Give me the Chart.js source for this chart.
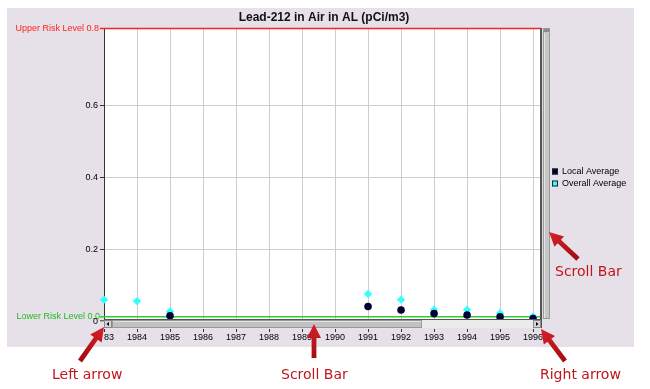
<!DOCTYPE html>
<html><head><meta charset="utf-8">
<script src="https://cdn.jsdelivr.net/npm/chart.js@4.4.0/dist/chart.umd.min.js"></script>
<style>html,body{margin:0;padding:0;background:#fff;}#wrap{width:650px;height:389px;position:relative;}canvas{display:block;}</style>
</head><body><div id="wrap"><canvas id="c" width="650" height="389"></canvas></div>
<script>
const chartTitle = 'Lead-212 in Air in AL (pCi/m3)';
const years = [1983,1984,1985,1986,1987,1988,1989,1990,1991,1992,1993,1994,1995,1996];
const localYears = [1985,1991,1992,1993,1994,1995,1996];
const localValues = [0.014,0.040,0.030,0.020,0.016,0.011,0.006];
const overallYears = [1983,1984,1985,1991,1992,1993,1994,1995,1996];
const overallValues = [0.059,0.055,0.026,0.075,0.059,0.031,0.031,0.021,0.012];
const yTicks = [0.2,0.4,0.6];
const upperRiskLabel = 'Upper Risk Level 0.8';
const lowerRiskLabel = 'Lower Risk Level 0.0';
const seriesNames = ['Local Average','Overall Average'];
const annotations = [
  {text:'Scroll Bar', x:555, y:272, from:[578,259], to:[549,232]},
  {text:'Left arrow', x:52, y:375, from:[80,361], to:[104,327]},
  {text:'Scroll Bar', x:281, y:375, from:[314,358], to:[314,324]},
  {text:'Right arrow', x:540, y:375, from:[565,361], to:[541,329]}
];

const FONT = "'Liberation Sans', Arial, sans-serif";
const navy = '#000033', cyan = '#33ffff';

function drawArrow(ctx, x1, y1, x2, y2) {
  const ang = Math.atan2(y2 - y1, x2 - x1);
  const len = Math.hypot(x2 - x1, y2 - y1);
  ctx.save();
  ctx.translate(x1, y1); ctx.rotate(ang);
  const g = ctx.createLinearGradient(0, 0, len, 0);
  g.addColorStop(0, '#a00d12'); g.addColorStop(1, '#d82027');
  ctx.fillStyle = g;
  const hl = 14, hw = 7, sw = 2.4;
  ctx.beginPath();
  ctx.moveTo(0, -sw); ctx.lineTo(len - hl, -sw); ctx.lineTo(len - hl, -hw);
  ctx.lineTo(len, 0); ctx.lineTo(len - hl, hw); ctx.lineTo(len - hl, sw); ctx.lineTo(0, sw);
  ctx.closePath(); ctx.fill();
  ctx.restore();
}

const decor = {
  id: 'decor',
  beforeDraw(chart) {
    const ctx = chart.ctx, a = chart.chartArea;
    ctx.save();
    ctx.fillStyle = '#fff'; ctx.fillRect(0, 0, 650, 389);
    ctx.fillStyle = '#e6e0e8'; ctx.fillRect(7, 8, 627, 339);
    ctx.fillStyle = '#fff'; ctx.fillRect(a.left, a.top, a.right - a.left, a.bottom - a.top);
    ctx.restore();
  },
  beforeDatasetsDraw(chart) {
    const ctx = chart.ctx, a = chart.chartArea;
    ctx.save();
    ctx.lineWidth = 1.5;
    ctx.strokeStyle = '#ff2020';
    ctx.beginPath(); ctx.moveTo(100, a.top + 0.5); ctx.lineTo(a.right, a.top + 0.5); ctx.stroke();
    ctx.strokeStyle = '#33cc33';
    ctx.beginPath(); ctx.moveTo(100, a.bottom - 2.3); ctx.lineTo(a.right, a.bottom - 2.3); ctx.stroke();
    ctx.restore();
  },
  afterDraw(chart) {
    const ctx = chart.ctx, a = chart.chartArea, xs = chart.scales.x, ys = chart.scales.y;
    ctx.save();
    ctx.fillStyle = '#555'; ctx.fillRect(a.right - 1, a.top, 2, a.bottom - a.top + 9);
    ctx.fillStyle = '#dcdcdc'; ctx.fillRect(a.right + 1, a.top, 2, a.bottom - a.top);
    ctx.fillStyle = '#c6c6c6'; ctx.fillRect(a.right + 2, a.top, 7, a.bottom - a.top);
    ctx.strokeStyle = '#9a9a9a'; ctx.lineWidth = 1;
    ctx.strokeRect(a.right + 2.5, a.top + 0.5, 6, a.bottom - a.top - 1);
    ctx.fillStyle = '#8a8a8a'; ctx.fillRect(a.right + 3, a.top + 1, 5, 3);
    ctx.fillStyle = '#e4e4e4'; ctx.fillRect(a.right + 3, a.top + 5, 1, a.bottom - a.top - 6);
    const sy = a.bottom, sh = 9;
    ctx.fillStyle = '#555'; ctx.fillRect(a.left, sy, a.right - a.left, 1);
    ctx.fillStyle = '#ececec'; ctx.fillRect(a.left, sy + 1, a.right - a.left, sh - 1);
    ctx.fillStyle = '#d6d6d6'; ctx.fillRect(a.left, sy + 1, 8, sh - 1);
    ctx.strokeStyle = '#888'; ctx.strokeRect(a.left + 0.5, sy + 1.5, 7, sh - 2);
    ctx.fillStyle = '#000';
    ctx.beginPath(); ctx.moveTo(a.left + 2.5, sy + 5); ctx.lineTo(a.left + 5, sy + 3); ctx.lineTo(a.left + 5, sy + 7); ctx.closePath(); ctx.fill();
    const tx0 = a.left + 8, tx1 = 422;
    ctx.fillStyle = '#c2c2c2'; ctx.fillRect(tx0, sy + 1, tx1 - tx0, sh - 1);
    ctx.strokeStyle = '#999'; ctx.strokeRect(tx0 + 0.5, sy + 1.5, tx1 - tx0 - 1, sh - 2);
    ctx.fillStyle = '#e2e2e2'; ctx.fillRect(tx0 + 1, sy + 2, tx1 - tx0 - 2, 1);
    ctx.fillStyle = '#d6d6d6'; ctx.fillRect(a.right - 8, sy + 1, 8, sh - 1);
    ctx.strokeStyle = '#888'; ctx.strokeRect(a.right - 7.5, sy + 1.5, 7, sh - 2);
    ctx.fillStyle = '#000';
    ctx.beginPath(); ctx.moveTo(a.right - 2.5, sy + 5); ctx.lineTo(a.right - 5, sy + 3); ctx.lineTo(a.right - 5, sy + 7); ctx.closePath(); ctx.fill();
    ctx.strokeStyle = '#333'; ctx.lineWidth = 1;
    years.forEach(v => {
      const px = Math.round(xs.getPixelForValue(v)) + 0.5;
      ctx.beginPath(); ctx.moveTo(px, sy + 10); ctx.lineTo(px, sy + 13); ctx.stroke();
    });
    ctx.fillStyle = '#e6e0e8'; ctx.fillRect(80, sy + 12, a.left - 80, 14);
    ctx.font = '9px ' + FONT; ctx.textAlign = 'right'; ctx.textBaseline = 'middle';
    ctx.fillStyle = '#ff2020'; ctx.fillText(upperRiskLabel, 99, a.top + 0.5);
    ctx.fillStyle = '#22bb22'; ctx.fillText(lowerRiskLabel, 100, a.bottom - 2.3);
    ctx.fillStyle = '#000'; ctx.fillText('0', 98, ys.getPixelForValue(0) + 0.5);
    ctx.strokeStyle = '#333';
    ctx.beginPath(); ctx.moveTo(100, ys.getPixelForValue(0)); ctx.lineTo(104, ys.getPixelForValue(0)); ctx.stroke();
    ctx.font = 'bold 12px ' + FONT; ctx.textAlign = 'center'; ctx.fillStyle = '#111';
    ctx.fillText(chartTitle, 324, 18);
    ctx.font = '9px ' + FONT; ctx.textAlign = 'left';
    const cols = [navy, cyan];
    seriesNames.forEach((n, i) => {
      const ly = 171.5 + i * 12;
      ctx.fillStyle = cols[i]; ctx.fillRect(552, ly - 3, 6, 6);
      ctx.strokeStyle = '#222'; ctx.strokeRect(552.5, ly - 2.5, 5, 5);
      ctx.fillStyle = '#000'; ctx.fillText(n, 562, ly);
    });
    annotations.forEach(an => drawArrow(ctx, an.from[0], an.from[1], an.to[0], an.to[1]));
    ctx.font = "14px 'DejaVu Sans', Verdana, sans-serif"; ctx.fillStyle = '#c0161c';
    ctx.textAlign = 'left'; ctx.textBaseline = 'middle';
    annotations.forEach(an => ctx.fillText(an.text, an.x, an.y));
    ctx.restore();
  }
};

new Chart(document.getElementById('c'), {
  type: 'scatter',
  data: {
    datasets: [
      { label: seriesNames[0], data: localYears.map((x, i) => ({x, y: localValues[i]})), clip: false,
        pointStyle: 'circle', pointRadius: 3.8, backgroundColor: navy, borderColor: navy, borderWidth: 0 },
      { label: seriesNames[1], data: overallYears.map((x, i) => ({x, y: overallValues[i]})), clip: false,
        pointStyle: 'rectRot', pointRadius: 4.2, backgroundColor: cyan, borderColor: cyan, borderWidth: 0 }
    ]
  },
  options: {
    responsive: false, animation: false, events: [],
    layout: { padding: { left: 0, right: 109, top: 28, bottom: 0 } },
    plugins: { legend: { display: false }, title: { display: false }, tooltip: { enabled: false } },
    scales: {
      x: {
        type: 'linear', min: 1983, max: 1996.24,
        afterBuildTicks: s => { s.ticks = years.map(v => ({ value: v })); },
        afterFit: s => { s.height = 70; },
        grid: { color: '#cdcdcd', drawTicks: false },
        border: { display: false },
        ticks: { padding: 13, autoSkip: false, maxRotation: 0, color: '#000',
          font: { family: FONT, size: 9 }, callback: v => String(v) }
      },
      y: {
        min: 0.005, max: 0.817,
        afterBuildTicks: s => { s.ticks = yTicks.map(v => ({ value: v })); },
        afterFit: s => { s.width = 104; },
        grid: { color: '#cdcdcd', tickColor: '#333', tickLength: 4 },
        border: { color: '#333' },
        ticks: { padding: 2, color: '#000', font: { family: FONT, size: 9 }, callback: v => v.toFixed(1) }
      }
    }
  },
  plugins: [decor]
});
</script>
</body></html>
